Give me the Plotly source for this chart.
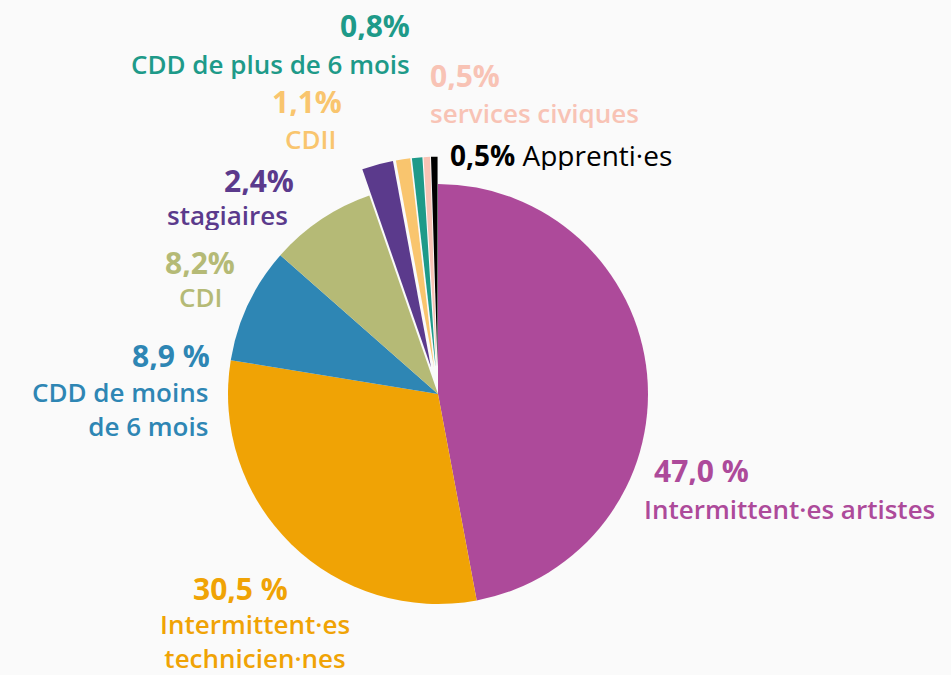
import plotly.graph_objects as go

W, H = 951, 675

labels = ["Intermittent·es artistes", "Intermittent·es techniciens·nes", "CDD de moins de 6 mois",
          "CDI", "stagiaires", "CDII", "CDD de plus de 6 mois", "services civiques", "Apprenti·es"]
values = [47.0, 30.5, 8.9, 8.2, 2.4, 1.1, 0.8, 0.5, 0.5]
pct_text = ["47,0 %", "30,5 %", "8,9 %", "8,2%", "2,4%", "1,1%", "0,8%", "0,5%", "0,5%"]
name_text = ["Intermittent·es artistes", "Intermittent·es<br>technicien·nes", "CDD de moins<br>de 6 mois",
             "CDI", "stagiaires", "CDII", "CDD de plus de 6 mois", "services civiques", "Apprenti·es"]
colors = ["#ad4a9a", "#f0a305", "#2e86b4", "#b5ba76", "#5b3a8c", "#f9c56e", "#1e9a89", "#f8c3b5", "#000000"]
pulls = [0, 0, 0, 0, 0.13, 0.13, 0.13, 0.13, 0.13]

FONT = "Open Sans"
BG = "#fafafa"

# pie centre / radius in pixels (from top-left)
cx, cy, r = 438, 394, 210
half = r * (1 + max(pulls))

fig = go.Figure(
    go.Pie(
        labels=labels,
        values=values,
        sort=False,
        direction="clockwise",
        rotation=0,
        pull=pulls,
        textinfo="none",
        hoverinfo="label+percent",
        marker=dict(colors=colors, line=dict(width=0)),
        domain=dict(x=[(cx - half) / W, (cx + half) / W],
                    y=[(H - cy - half) / H, (H - cy + half) / H]),
        showlegend=False,
    )
)


def px(x):
    return x / W


def py(y):
    return 1 - y / H


# text positions in pixels (from top-left)
pct_pos = [
    (652, 470, "left"), (241, 588, "center"), (212, 355, "right"), (200, 262, "center"),
    (296, 180, "right"), (307, 101, "center"), (412, 25, "right"), (428, 75, "left"),
]
name_pos = [
    (642, 509, "left"), (255, 641, "center"), (210, 409, "right"), (200, 297, "center"),
    (290, 215, "right"), (310, 139, "center"), (412, 64, "right"), (428, 113, "left"),
]

annotations = []
for i in range(8):
    x, y, a = pct_pos[i]
    annotations.append(dict(
        x=px(x), y=py(y), xref="paper", yref="paper", xanchor=a, yanchor="middle",
        text=pct_text[i], showarrow=False, align=a, height=30,
        font=dict(family=FONT, size=30, weight=700, color=colors[i]),
    ))
    x, y, a = name_pos[i]
    nlines = name_text[i].count("<br>") + 1
    annotations.append(dict(
        x=px(x), y=py(y), xref="paper", yref="paper", xanchor=a, yanchor="middle",
        text=name_text[i], showarrow=False, align=a, height=30 * nlines,
        font=dict(family=FONT, size=26, weight=600, color=colors[i]),
    ))

# apprenti·es : single line, black
annotations.append(dict(
    x=px(448), y=py(155), xref="paper", yref="paper", xanchor="left", yanchor="middle",
    text="<b>" + pct_text[8] + "</b> " + name_text[8], showarrow=False, height=30,
    font=dict(family=FONT, size=28, weight=500, color=colors[8]),
))

fig.update_layout(
    width=W, height=H,
    margin=dict(l=0, r=0, t=0, b=0),
    paper_bgcolor=BG,
    plot_bgcolor=BG,
    annotations=annotations,
)

fig.write_html(
    "out.html",
    config={"displayModeBar": False},
    post_script="document.body.style.margin='0';document.body.style.background='%s';"
                "document.body.style.overflow='hidden';" % BG,
)
